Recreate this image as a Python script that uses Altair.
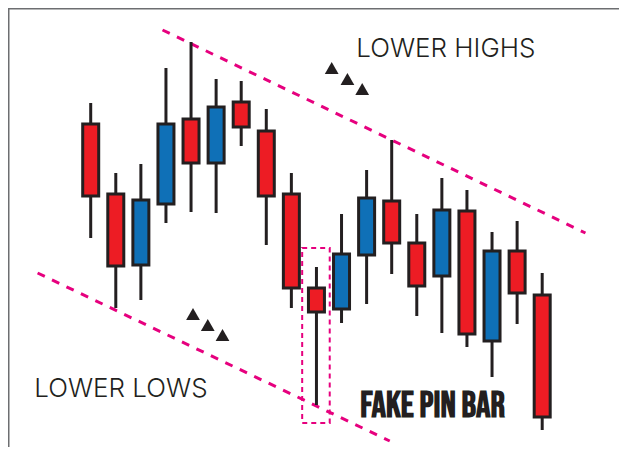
import altair as alt
import pandas as pd

# ---- data ----
idx    = list(range(1, 20))
color  = ["red", "red", "blue", "blue", "red", "blue", "red", "red", "red", "red",
          "blue", "blue", "red", "red", "blue", "red", "blue", "red", "red"]
high   = [352, 282, 291, 387, 413, 376, 374, 346, 282, 188, 241, 285, 315, 241, 277, 265, 223, 234, 182]
top    = [331, 261, 255, 331, 336, 348, 353, 324, 261, 167, 201, 257, 254, 212, 245, 244, 204, 204, 160]
bottom = [259, 189, 190, 251, 292, 292, 328, 259, 167, 143, 146, 200, 212, 169, 179, 121, 114, 162, 38]
low    = [217, 147, 155, 232, 243, 242, 309, 210, 147, 50, 132, 151, 181, 139, 122, 108, 78, 131, 25]

# trend lines (index, price)
trend_name  = ["highs", "highs", "lows", "lows"]
trend_x     = [3.863, 20.725, -1.118, 12.922]
trend_price = [425, 222, 182, 14]

# fake pin bar box
box_x  = [9.431]
box_x2 = [10.529]
box_y  = [207]
box_y2 = [32]

# arrow triangles
tri_x     = [10.608, 11.235, 11.824, 5.078, 5.667, 6.255]
tri_price = [387, 376, 366, 141, 130, 120]

# labels
lab_text  = ["LOWER HIGHS", "LOWER LOWS"]
lab_x     = [11.588, -1.25]
lab_price = [398, 58]
pin_text  = ["FAKE PIN BAR"]
pin_x     = [11.745]
pin_price = [38]

W, H = 611, 439
XDOM = [1 - 79 / 25.5, 1 + (619 - 87) / 25.5]
YDOM = [8, 447]

candles = pd.DataFrame({"i": idx, "c": color, "high": high, "top": top,
                        "bottom": bottom, "low": low})
trend = pd.DataFrame({"name": trend_name, "x": trend_x, "p": trend_price})
box = pd.DataFrame({"x": box_x, "x2": box_x2, "y": box_y, "y2": box_y2})
tri = pd.DataFrame({"x": tri_x, "p": tri_price})
labs = pd.DataFrame({"t": lab_text, "x": lab_x, "p": lab_price})
pin = pd.DataFrame({"t": pin_text, "x": pin_x, "p": pin_price})

xs = alt.Scale(domain=XDOM, nice=False, zero=False)
ys = alt.Scale(domain=YDOM, nice=False, zero=False)
INK = "#231f20"
PINK = "#e6007e"

def X(f):
    return alt.X(f, type="quantitative", scale=xs, axis=None)

def Y(f):
    return alt.Y(f, type="quantitative", scale=ys, axis=None)

frame_top = alt.Chart(pd.DataFrame({"a": [0]})).mark_rule(
    color="#6d6e71", strokeWidth=1.5).encode(
    x=alt.value(0), x2=alt.value(W), y=alt.value(0.75))
frame_left = alt.Chart(pd.DataFrame({"a": [0]})).mark_rule(
    color="#6d6e71", strokeWidth=1.5).encode(
    x=alt.value(0.75), y=alt.value(0), y2=alt.value(H))

lines = alt.Chart(trend).mark_line(
    color=PINK, strokeWidth=3, strokeDash=[8, 8], strokeCap="butt").encode(
    x=X("x"), y=Y("p"), detail="name:N")

boxm = alt.Chart(box).mark_rect(
    fill=None, stroke=PINK, strokeWidth=2, strokeDash=[5, 4], fillOpacity=0).encode(
    x=X("x"), x2="x2", y=Y("y"), y2="y2")

wicks = alt.Chart(candles).mark_rule(color=INK, strokeWidth=3).encode(
    x=X("i"), y=Y("low"), y2="high")

bodies = alt.Chart(candles).mark_bar(
    width=16, stroke=INK, strokeWidth=3, cornerRadius=0).encode(
    x=X("i"), y=Y("bottom"), y2="top",
    color=alt.Color("c:N", scale=alt.Scale(domain=["red", "blue"],
                                           range=["#ed1c24", "#0f70b7"]),
                    legend=None))

tris = alt.Chart(tri).mark_point(
    shape="triangle-up", filled=True, color=INK, size=190, opacity=1).encode(
    x=X("x"), y=Y("p"))

labels = alt.Chart(labs).mark_text(
    align="left", baseline="alphabetic", font="Inter", fontSize=26,
    fontWeight=300, color=INK).encode(
    x=X("x"), y=Y("p"), text="t:N")

pinlab = alt.Chart(pin).mark_text(
    align="left", baseline="alphabetic", font="Bebas Neue",
    fontSize=36, fontWeight="bold", color=INK).encode(
    x=X("x"), y=Y("p"), text="t:N")

chart = alt.layer(frame_top, frame_left, lines, boxm, wicks, bodies, tris,
                  labels, pinlab).properties(
    width=W, height=H, padding=0, autosize=alt.AutoSizeParams(type="none"),
    background="white").configure_view(stroke=None)

chart.save("out.html", embed_options={"renderer": "svg", "actions": False})
